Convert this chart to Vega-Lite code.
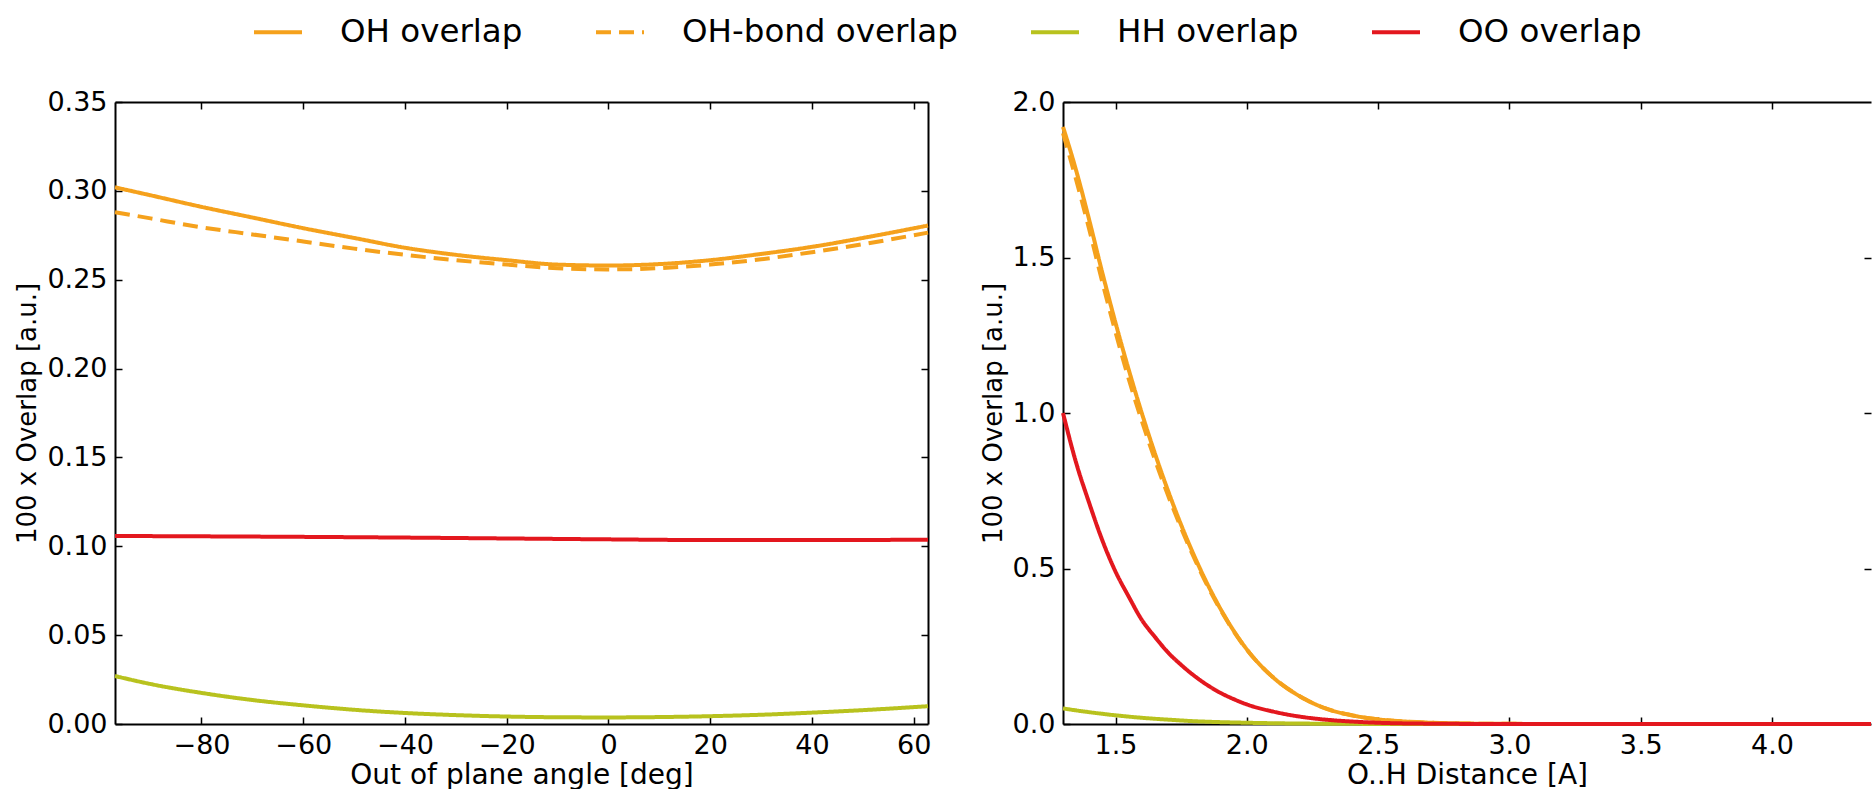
{
  "$schema": "https://vega.github.io/schema/vega-lite/v6.json",
  "background": "white",
  "padding": {"left": 14, "top": 6, "right": 0, "bottom": 0},
  "spacing": 44,
  "config": {
    "font": "DejaVu Sans",
    "view": {"stroke": null},
    "axis": {
      "grid": false,
      "domainColor": "black",
      "domainWidth": 2,
      "tickColor": "black",
      "tickWidth": 1.5,
      "tickSize": -7,
      "labelPadding": 15,
      "labelFontSize": 27,
      "labelColor": "black",
      "titleFontWeight": "normal",
      "titleColor": "black"
    },
    "axisX": {"titleFontSize": 28, "titlePadding": 3},
    "axisY": {"titleFontSize": 26, "titlePadding": 6},
    "legend": {
      "orient": "none",
      "direction": "horizontal",
      "symbolType": "stroke",
      "symbolSize": 2304,
      "symbolStrokeWidth": 4,
      "labelFontSize": 32.5,
      "labelColor": "black",
      "labelLimit": 0,
      "labelOffset": 36,
      "columnPadding": 65,
      "legendX": 137,
      "legendY": -96
    }
  },
  "datasets": {
    "angle": [
      {"series": "OH overlap", "x": -97, "y": 0.302},
      {"series": "OH overlap", "x": -90, "y": 0.2975},
      {"series": "OH overlap", "x": -80, "y": 0.291},
      {"series": "OH overlap", "x": -70, "y": 0.285},
      {"series": "OH overlap", "x": -60, "y": 0.279},
      {"series": "OH overlap", "x": -50, "y": 0.2735},
      {"series": "OH overlap", "x": -40, "y": 0.268},
      {"series": "OH overlap", "x": -30, "y": 0.264},
      {"series": "OH overlap", "x": -20, "y": 0.261},
      {"series": "OH overlap", "x": -10, "y": 0.2585},
      {"series": "OH overlap", "x": 0, "y": 0.258},
      {"series": "OH overlap", "x": 10, "y": 0.2588},
      {"series": "OH overlap", "x": 20, "y": 0.261},
      {"series": "OH overlap", "x": 30, "y": 0.2645},
      {"series": "OH overlap", "x": 40, "y": 0.2685},
      {"series": "OH overlap", "x": 50, "y": 0.2735},
      {"series": "OH overlap", "x": 62.8, "y": 0.2805},
      {"series": "OH-bond overlap", "x": -97, "y": 0.288},
      {"series": "OH-bond overlap", "x": -90, "y": 0.2845},
      {"series": "OH-bond overlap", "x": -80, "y": 0.2795},
      {"series": "OH-bond overlap", "x": -70, "y": 0.2755},
      {"series": "OH-bond overlap", "x": -60, "y": 0.2715},
      {"series": "OH-bond overlap", "x": -50, "y": 0.2675},
      {"series": "OH-bond overlap", "x": -40, "y": 0.264},
      {"series": "OH-bond overlap", "x": -30, "y": 0.261},
      {"series": "OH-bond overlap", "x": -20, "y": 0.2585},
      {"series": "OH-bond overlap", "x": -10, "y": 0.2565},
      {"series": "OH-bond overlap", "x": 0, "y": 0.2558},
      {"series": "OH-bond overlap", "x": 10, "y": 0.2565},
      {"series": "OH-bond overlap", "x": 20, "y": 0.2585},
      {"series": "OH-bond overlap", "x": 30, "y": 0.2615},
      {"series": "OH-bond overlap", "x": 40, "y": 0.2655},
      {"series": "OH-bond overlap", "x": 50, "y": 0.27},
      {"series": "OH-bond overlap", "x": 62.8, "y": 0.2765},
      {"series": "HH overlap", "x": -97, "y": 0.027},
      {"series": "HH overlap", "x": -90, "y": 0.0225},
      {"series": "HH overlap", "x": -80, "y": 0.0175},
      {"series": "HH overlap", "x": -70, "y": 0.0135},
      {"series": "HH overlap", "x": -60, "y": 0.0105},
      {"series": "HH overlap", "x": -50, "y": 0.008},
      {"series": "HH overlap", "x": -40, "y": 0.0062},
      {"series": "HH overlap", "x": -30, "y": 0.005},
      {"series": "HH overlap", "x": -20, "y": 0.0042},
      {"series": "HH overlap", "x": -10, "y": 0.0038},
      {"series": "HH overlap", "x": 0, "y": 0.0037},
      {"series": "HH overlap", "x": 10, "y": 0.0039},
      {"series": "HH overlap", "x": 20, "y": 0.0044},
      {"series": "HH overlap", "x": 30, "y": 0.0052},
      {"series": "HH overlap", "x": 40, "y": 0.0064},
      {"series": "HH overlap", "x": 50, "y": 0.0078},
      {"series": "HH overlap", "x": 62.8, "y": 0.01},
      {"series": "OO overlap", "x": -97, "y": 0.1058},
      {"series": "OO overlap", "x": -80, "y": 0.1056},
      {"series": "OO overlap", "x": -60, "y": 0.1053},
      {"series": "OO overlap", "x": -40, "y": 0.1049},
      {"series": "OO overlap", "x": -20, "y": 0.1044},
      {"series": "OO overlap", "x": 0, "y": 0.1039},
      {"series": "OO overlap", "x": 20, "y": 0.1035},
      {"series": "OO overlap", "x": 40, "y": 0.1035},
      {"series": "OO overlap", "x": 62.8, "y": 0.1037}
    ],
    "distance": [
      {"series": "OH overlap", "x": 1.3, "y": 1.92},
      {"series": "OH overlap", "x": 1.35, "y": 1.78},
      {"series": "OH overlap", "x": 1.4, "y": 1.62},
      {"series": "OH overlap", "x": 1.45, "y": 1.45},
      {"series": "OH overlap", "x": 1.5, "y": 1.29},
      {"series": "OH overlap", "x": 1.55, "y": 1.14},
      {"series": "OH overlap", "x": 1.6, "y": 1.0},
      {"series": "OH overlap", "x": 1.65, "y": 0.87},
      {"series": "OH overlap", "x": 1.7, "y": 0.75},
      {"series": "OH overlap", "x": 1.75, "y": 0.64},
      {"series": "OH overlap", "x": 1.8, "y": 0.54},
      {"series": "OH overlap", "x": 1.85, "y": 0.45},
      {"series": "OH overlap", "x": 1.9, "y": 0.37},
      {"series": "OH overlap", "x": 1.95, "y": 0.3},
      {"series": "OH overlap", "x": 2.0, "y": 0.24},
      {"series": "OH overlap", "x": 2.1, "y": 0.15},
      {"series": "OH overlap", "x": 2.2, "y": 0.09},
      {"series": "OH overlap", "x": 2.3, "y": 0.05},
      {"series": "OH overlap", "x": 2.4, "y": 0.028},
      {"series": "OH overlap", "x": 2.5, "y": 0.015},
      {"series": "OH overlap", "x": 2.6, "y": 0.008},
      {"series": "OH overlap", "x": 2.7, "y": 0.004},
      {"series": "OH overlap", "x": 2.8, "y": 0.002},
      {"series": "OH overlap", "x": 3.0, "y": 0.0005},
      {"series": "OH overlap", "x": 3.5, "y": 0},
      {"series": "OH overlap", "x": 4.377, "y": 0},
      {"series": "OH-bond overlap", "x": 1.3, "y": 1.9},
      {"series": "OH-bond overlap", "x": 1.35, "y": 1.75},
      {"series": "OH-bond overlap", "x": 1.4, "y": 1.59},
      {"series": "OH-bond overlap", "x": 1.45, "y": 1.42},
      {"series": "OH-bond overlap", "x": 1.5, "y": 1.26},
      {"series": "OH-bond overlap", "x": 1.55, "y": 1.11},
      {"series": "OH-bond overlap", "x": 1.6, "y": 0.975},
      {"series": "OH-bond overlap", "x": 1.65, "y": 0.85},
      {"series": "OH-bond overlap", "x": 1.7, "y": 0.735},
      {"series": "OH-bond overlap", "x": 1.75, "y": 0.63},
      {"series": "OH-bond overlap", "x": 1.8, "y": 0.533},
      {"series": "OH-bond overlap", "x": 1.85, "y": 0.445},
      {"series": "OH-bond overlap", "x": 1.9, "y": 0.367},
      {"series": "OH-bond overlap", "x": 1.95, "y": 0.298},
      {"series": "OH-bond overlap", "x": 2.0, "y": 0.239},
      {"series": "OH-bond overlap", "x": 2.1, "y": 0.15},
      {"series": "OH-bond overlap", "x": 2.2, "y": 0.09},
      {"series": "OH-bond overlap", "x": 2.3, "y": 0.05},
      {"series": "OH-bond overlap", "x": 2.4, "y": 0.028},
      {"series": "OH-bond overlap", "x": 2.5, "y": 0.015},
      {"series": "OH-bond overlap", "x": 2.6, "y": 0.008},
      {"series": "OH-bond overlap", "x": 2.7, "y": 0.004},
      {"series": "OH-bond overlap", "x": 2.8, "y": 0.002},
      {"series": "OH-bond overlap", "x": 3.0, "y": 0.0005},
      {"series": "OH-bond overlap", "x": 3.5, "y": 0},
      {"series": "OH-bond overlap", "x": 4.377, "y": 0},
      {"series": "HH overlap", "x": 1.3, "y": 0.05},
      {"series": "HH overlap", "x": 1.4, "y": 0.038},
      {"series": "HH overlap", "x": 1.5, "y": 0.028},
      {"series": "HH overlap", "x": 1.6, "y": 0.02},
      {"series": "HH overlap", "x": 1.7, "y": 0.014},
      {"series": "HH overlap", "x": 1.8, "y": 0.009},
      {"series": "HH overlap", "x": 1.9, "y": 0.006},
      {"series": "HH overlap", "x": 2.0, "y": 0.004},
      {"series": "HH overlap", "x": 2.2, "y": 0.0015},
      {"series": "HH overlap", "x": 2.5, "y": 0.0003},
      {"series": "HH overlap", "x": 3.0, "y": 0},
      {"series": "HH overlap", "x": 4.377, "y": 0},
      {"series": "OO overlap", "x": 1.3, "y": 1.0},
      {"series": "OO overlap", "x": 1.35, "y": 0.84},
      {"series": "OO overlap", "x": 1.4, "y": 0.71},
      {"series": "OO overlap", "x": 1.45, "y": 0.59},
      {"series": "OO overlap", "x": 1.5, "y": 0.49},
      {"series": "OO overlap", "x": 1.55, "y": 0.41},
      {"series": "OO overlap", "x": 1.6, "y": 0.335},
      {"series": "OO overlap", "x": 1.65, "y": 0.28},
      {"series": "OO overlap", "x": 1.7, "y": 0.23},
      {"series": "OO overlap", "x": 1.75, "y": 0.19},
      {"series": "OO overlap", "x": 1.8, "y": 0.155},
      {"series": "OO overlap", "x": 1.85, "y": 0.125},
      {"series": "OO overlap", "x": 1.9, "y": 0.1},
      {"series": "OO overlap", "x": 1.95, "y": 0.08},
      {"series": "OO overlap", "x": 2.0, "y": 0.063},
      {"series": "OO overlap", "x": 2.1, "y": 0.04},
      {"series": "OO overlap", "x": 2.2, "y": 0.024},
      {"series": "OO overlap", "x": 2.3, "y": 0.014},
      {"series": "OO overlap", "x": 2.4, "y": 0.008},
      {"series": "OO overlap", "x": 2.5, "y": 0.004},
      {"series": "OO overlap", "x": 2.7, "y": 0.001},
      {"series": "OO overlap", "x": 3.0, "y": 0},
      {"series": "OO overlap", "x": 4.377, "y": 0}
    ]
  },
  "resolve": {"scale": {"color": "shared", "strokeDash": "shared"}},
  "hconcat": [
    {
      "width": 813,
      "height": 622,
      "data": {"name": "angle"},
      "resolve": {"axis": {"x": "independent", "y": "independent"}},
      "layer": [
        {
          "mark": {"type": "line", "interpolate": "monotone", "strokeWidth": 4},
          "encoding": {
            "x": {
              "field": "x", "type": "quantitative",
              "scale": {"domain": [-97, 62.8], "nice": false, "zero": false},
              "axis": {"values": [-80, -60, -40, -20, 0, 20, 40, 60], "format": "d", "title": "Out of plane angle [deg]"}
            },
            "y": {
              "field": "y", "type": "quantitative",
              "scale": {"domain": [0, 0.35], "nice": false},
              "axis": {"values": [0, 0.05, 0.1, 0.15, 0.2, 0.25, 0.3, 0.35], "format": ".2f", "title": "100 x Overlap [a.u.]"}
            },
            "color": {
              "field": "series", "type": "nominal",
              "scale": {"domain": ["OH overlap", "OH-bond overlap", "HH overlap", "OO overlap"], "range": ["#F5A11C", "#F5A11C", "#B8C21E", "#E3171E"]},
              "legend": {"title": null}
            },
            "strokeDash": {
              "field": "series", "type": "nominal",
              "scale": {"domain": ["OH overlap", "OH-bond overlap", "HH overlap", "OO overlap"], "range": [[1, 0], [15, 8], [1, 0], [1, 0]]},
              "legend": {"title": null}
            }
          }
        },
        {
          "mark": {"type": "point", "opacity": 0},
          "encoding": {
            "x": {
              "field": "x", "type": "quantitative",
              "axis": {"orient": "top", "values": [-80, -60, -40, -20, 0, 20, 40, 60], "labels": false, "title": null}
            },
            "y": {
              "field": "y", "type": "quantitative",
              "axis": {"orient": "right", "values": [0.05, 0.1, 0.15, 0.2, 0.25, 0.3], "labels": false, "title": null}
            }
          }
        }
      ]
    },
    {
      "width": 808,
      "height": 622,
      "data": {"name": "distance"},
      "resolve": {"axis": {"x": "independent", "y": "independent"}},
      "layer": [
        {
          "mark": {"type": "line", "interpolate": "monotone", "strokeWidth": 4},
          "encoding": {
            "x": {
              "field": "x", "type": "quantitative",
              "scale": {"domain": [1.3, 4.377], "nice": false, "zero": false},
              "axis": {"values": [1.5, 2.0, 2.5, 3.0, 3.5, 4.0], "format": ".1f", "title": "O..H Distance [A]"}
            },
            "y": {
              "field": "y", "type": "quantitative",
              "scale": {"domain": [0, 2.0], "nice": false},
              "axis": {"values": [0, 0.5, 1.0, 1.5, 2.0], "format": ".1f", "title": "100 x Overlap [a.u.]"}
            },
            "color": {
              "field": "series", "type": "nominal",
              "scale": {"domain": ["OH overlap", "OH-bond overlap", "HH overlap", "OO overlap"], "range": ["#F5A11C", "#F5A11C", "#B8C21E", "#E3171E"]},
              "legend": {"title": null}
            },
            "strokeDash": {
              "field": "series", "type": "nominal",
              "scale": {"domain": ["OH overlap", "OH-bond overlap", "HH overlap", "OO overlap"], "range": [[1, 0], [15, 8], [1, 0], [1, 0]]},
              "legend": {"title": null}
            }
          }
        },
        {
          "mark": {"type": "point", "opacity": 0},
          "encoding": {
            "x": {
              "field": "x", "type": "quantitative",
              "axis": {"orient": "top", "values": [1.5, 2.0, 2.5, 3.0, 3.5, 4.0], "labels": false, "title": null}
            },
            "y": {
              "field": "y", "type": "quantitative",
              "axis": {"orient": "right", "values": [0.5, 1.0, 1.5], "labels": false, "title": null, "domain": false}
            }
          }
        }
      ]
    }
  ]
}
